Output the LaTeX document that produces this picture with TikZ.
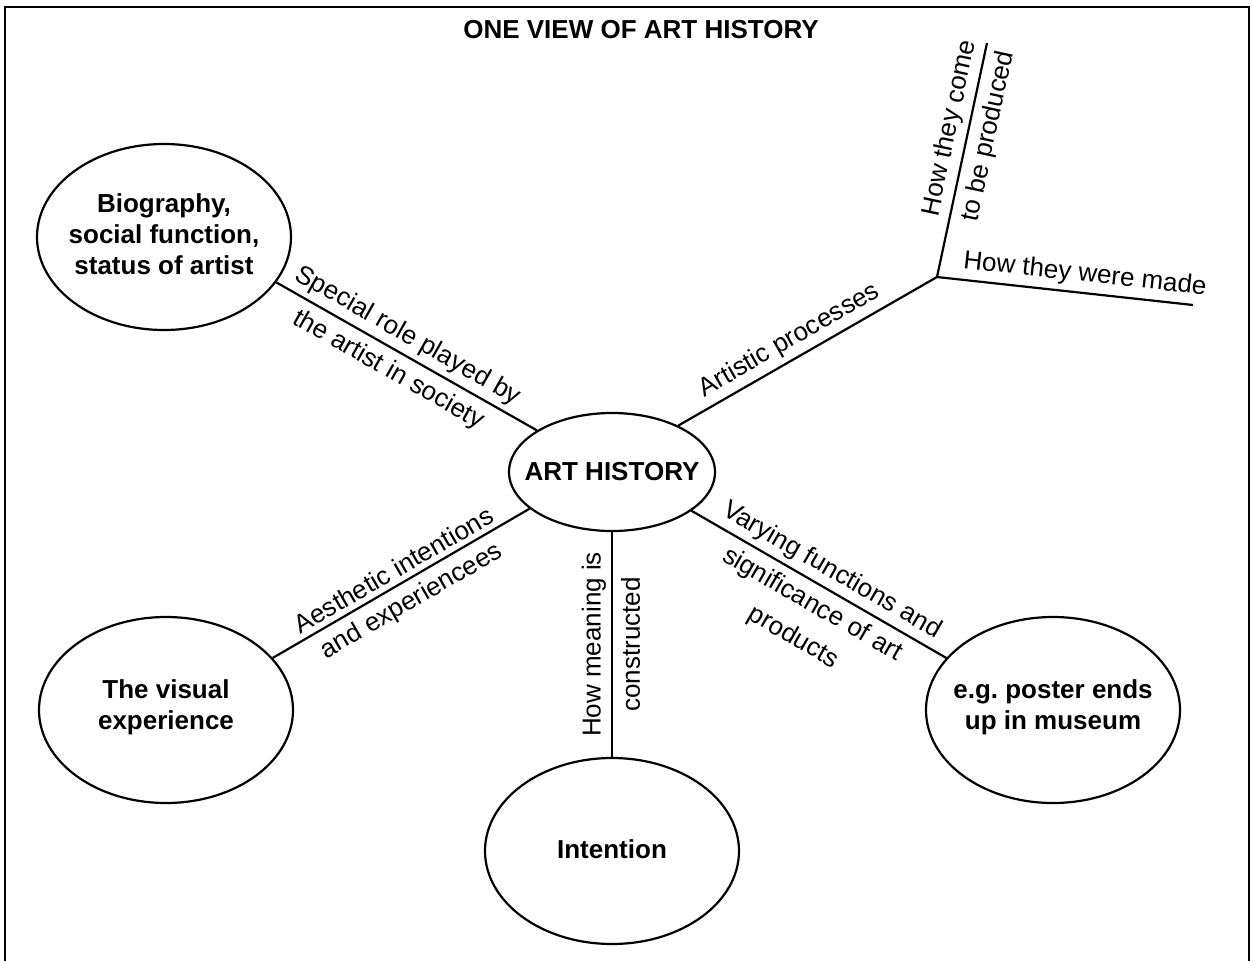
\documentclass[tikz,border=0pt]{standalone}
\usepackage{fontspec}
\setmainfont{Liberation Sans}
\usetikzlibrary{shapes.geometric}
\frenchspacing
\begin{document}
\begin{tikzpicture}[x=1pt,y=-1pt,
  bubble/.style={ellipse, draw, line width=2.2pt, minimum width=254pt, minimum height=186pt, inner sep=0pt},
  btext/.style={align=center, font=\bfseries\fontsize{26}{31}\selectfont, inner sep=0pt},
  conn/.style={line width=2.2pt},
  lab/.style={font=\fontsize{26}{38}\selectfont, align=center, sloped},
  labA/.style={lab, above, inner sep=5pt},
  labB/.style={lab, below, inner sep=8pt},
  frame/.style={line width=2.4pt}
]
\useasboundingbox (0,0) rectangle (1253,961);
% frame
\coordinate (fbl) at (5,975);
\coordinate (ftl) at (5,7);
\coordinate (ftr) at (1249,7);
\coordinate (fbr) at (1249,975);
\draw[frame] (fbl) -- (ftl) -- (ftr) -- (fbr);

\node[font=\bfseries\fontsize{26}{31}\selectfont, inner sep=0pt] (title) at (641,30) {ONE VIEW OF ART HISTORY};

% ellipses
\node[bubble] (bio) at (164,237) {};
\node[btext] (biot) at (164,234) {Biography,\\social function,\\status of artist};
\node[bubble, minimum width=206pt, minimum height=118pt] (art) at (612,472) {};
\node[btext] (artt) at (art) {ART HISTORY};
\node[bubble] (vis) at (166,710) {};
\node[btext] (vist) at (166,707) {The visual\\experience};
\node[bubble] (intent) at (612,851) {};
\node[btext] (intentt) at (612,849) {Intention};
\node[bubble] (post) at (1053,710) {};
\node[btext] (postt) at (1053,707) {e.g. poster ends\\up in museum};

\coordinate (junc) at (937,277);
\coordinate (jtop) at (987,43);
\coordinate (jright) at (1193,305);

% connectors
\draw[conn] (bio.-22) -- node[labA, pos=.47] (l1a) {Special role played by}
  node[labB, pos=.47] (l1b) {the artist in society} (art.151);
\draw[conn] (art.35) -- node[labA, pos=.465] (l2) {Artistic processes} (junc);
\draw[conn] (junc) -- node[labA, pos=.62] (l3a) {How they come}
  node[labB, pos=.62] (l3b) {to be produced} (jtop);
\draw[conn] (junc) -- node[labA, pos=.57] (l4) {How they were made} (jright);
\draw[conn] (vis.26) -- node[labA, pos=.5] (l5a) {Aesthetic intentions}
  node[labB, pos=.5] (l5b) {and experiencees} (art.204);
\draw[conn] (art.south |- intent.north) -- node[labA, pos=.5] (l6a) {How meaning is}
  node[labB, pos=.5] (l6b) {constructed} (art.south);
\draw[conn] (art.-26) -- node[labA, pos=.515] (l7a) {Varying functions and}
  node[labB, pos=.515] (l7b) {significance of art\\products} (post.154);
\end{tikzpicture}
\end{document}
